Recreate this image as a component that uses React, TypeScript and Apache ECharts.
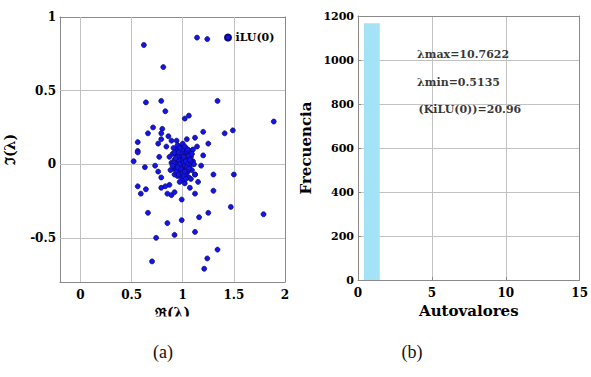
import React, { useEffect, useRef } from "react";
import * as echarts from "echarts";

// Eigenvalues of the iLU(0)-preconditioned matrix: [Re, Im]
const spreadEigs: number[][] = [
  [0.62, 0.81], [0.81, 0.66], [0.64, 0.42], [0.79, 0.43], [0.83, 0.36],
  [0.71, 0.25], [0.8, 0.24], [0.66, 0.21], [0.79, 0.21], [0.89, 0.16],
  [0.56, 0.15], [0.76, 0.14], [0.56, 0.09], [1.14, 0.86], [1.24, 0.85],
  [1.34, 0.43], [1.02, 0.31], [1.06, 0.33], [1.89, 0.29], [1.2, 0.22],
  [1.41, 0.21], [1.49, 0.23], [1.25, 0.14], [1.12, 0.18], [1.04, 0.17],
  [0.94, 0.16], [0.56, 0.08], [0.52, 0.02], [0.63, -0.02], [0.77, 0.05],
  [0.73, -0.01], [0.76, -0.05], [0.79, -0.09], [0.56, -0.15], [0.64, -0.17],
  [0.59, -0.2], [0.79, -0.16], [0.85, -0.2], [0.89, -0.21], [0.66, -0.33],
  [0.85, -0.4], [0.74, -0.5], [0.92, -0.48], [0.7, -0.66], [1.2, 0.06],
  [1.18, -0.01], [1.3, -0.07], [1.5, -0.07], [1.3, -0.18], [1.12, -0.07],
  [1.07, -0.16], [1.12, -0.2], [0.99, -0.24], [0.92, -0.19], [1.47, -0.29],
  [1.79, -0.34], [1.25, -0.33], [1.16, -0.36], [0.99, -0.38], [1.12, -0.46],
  [1.34, -0.58], [1.24, -0.64], [1.21, -0.71], [0.79, 0.17], [0.84, 0.12],
  [0.87, -0.14], [0.83, -0.15], [1.14, 0.12], [1.15, -0.12], [0.86, 0.19],
];

// Dense group of eigenvalues near 1
const clusterEigs: number[][] = [
  [0.98, 0.02], [1.0, 0.0], [1.02, 0.03], [0.96, -0.01], [1.01, -0.03],
  [0.99, 0.05], [1.04, 0.01], [0.97, 0.04], [1.03, -0.02], [0.95, 0.02],
  [1.0, 0.07], [1.06, 0.04], [0.93, 0.0], [1.05, -0.05], [0.98, -0.06],
  [1.02, 0.08], [0.94, 0.06], [1.07, -0.01], [0.96, -0.05], [1.01, 0.1],
  [0.92, 0.03], [1.08, 0.05], [0.99, -0.09], [1.03, 0.11], [0.91, -0.03],
  [1.09, -0.04], [0.97, 0.09], [1.05, 0.07], [0.95, -0.08], [1.04, -0.08],
  [0.9, 0.07], [1.1, 0.02], [0.98, 0.12], [1.0, -0.11], [0.93, 0.1],
  [1.07, 0.09], [0.92, -0.07], [1.06, -0.09], [0.89, 0.01], [1.11, 0.0],
  [0.97, -0.02], [1.0, 0.03], [1.01, 0.01], [0.99, -0.02], [1.02, -0.01],
  [0.98, 0.06], [1.03, 0.05], [0.96, 0.03], [1.04, -0.04], [0.94, -0.03],
  [1.12, -0.07], [0.88, -0.04], [1.0, 0.14], [0.95, 0.13], [1.08, -0.1],
  [0.91, 0.11], [1.02, -0.13], [0.97, -0.12], [1.1, 0.1], [0.87, 0.05],
  [0.95, 0.05], [0.97, 0.0], [0.99, 0.08], [1.01, 0.05], [1.03, 0.02],
  [1.05, 0.0], [1.06, 0.06], [0.94, -0.05], [0.96, -0.07], [0.98, -0.03],
  [1.0, -0.06], [1.02, -0.05], [1.04, -0.02], [1.06, -0.03], [0.93, 0.04],
  [0.95, -0.02], [1.0, 0.1], [1.02, 0.12], [1.04, 0.09], [1.08, 0.02],
  [0.91, 0.01], [0.92, 0.08], [0.97, 0.11], [1.01, -0.08], [1.03, -0.1],
  [0.96, 0.08], [1.07, 0.03], [1.09, 0.07], [0.9, -0.01], [1.05, 0.1],
];

// Histogram of eigenvalue magnitudes: [binStart, binEnd, count]
const histBins: number[][] = [[0.4, 1.47, 1167]];

// Condition statistics printed inside the histogram: [x, y, text]
const statNotes: [number, number, string][] = [
  [4.0, 1023, "λmax=10.7622"],
  [4.0, 897, "λmin=0.5135"],
  [4.1, 773, "(KiLU(0))=20.96"],
];

const reTicks = [0, 0.5, 1, 1.5, 2];
const imTicks = [-0.5, 0, 0.5, 1];
const panelCaptions = ["(a)", "(b)"];

const FONT = "DejaVu Serif";
const GRID_COLOR = "#c2c2c2";
const BOX_COLOR = "#8a8a8a";
const tickLabel = {
  fontFamily: FONT,
  fontWeight: "bold" as const,
  fontSize: 12,
  color: "#000000",
};
const makeSplit = () => ({ show: true, lineStyle: { color: GRID_COLOR, width: 1 } });
const makeAxisLine = () => ({ show: true, onZero: false, lineStyle: { color: BOX_COLOR, width: 1 } });
const edgeAxis = { axisLine: makeAxisLine(), axisTick: { show: false }, axisLabel: { show: false }, splitLine: { show: false } };

export default function App() {
  const ref = useRef<HTMLDivElement>(null);

  useEffect(() => {
    if (!ref.current) return;
    const chart = echarts.init(ref.current, null, { renderer: "svg" });

    // Grid lines for the scatter panel, placed at its tick values
    const scatterGridLines = [
      ...reTicks.filter((v) => v > -0.2 && v < 2).map((v) => ({ xAxis: v })),
      ...imTicks.filter((v) => v > -0.8 && v < 1).map((v) => ({ yAxis: v })),
    ];

    chart.setOption({
      animation: false,
      backgroundColor: "#ffffff",
      grid: [
        { left: 60, top: 17, width: 225, height: 265 },
        { left: 358, top: 16, width: 224, height: 264 },
      ],
      legend: {
        data: ["iLU(0)"],
        left: 219,
        top: 27,
        icon: "circle",
        itemWidth: 9,
        itemHeight: 6,
        textStyle: { fontFamily: FONT, fontWeight: "bold", fontSize: 11, color: "#000000", padding: [0, 0, 0, -2] },
      },
      xAxis: [
        {
          gridIndex: 0,
          type: "value",
          min: -0.2,
          max: 2,
          axisLine: makeAxisLine(),
          axisTick: { show: true, inside: true, length: 3, customValues: reTicks, lineStyle: { color: BOX_COLOR } },
          axisLabel: { ...tickLabel, margin: 7, customValues: reTicks },
          splitLine: { show: false },
          name: "ℜ(λ)",
          nameLocation: "middle",
          nameGap: 20,
          nameTextStyle: { fontFamily: FONT, fontWeight: "bold", fontSize: 14, color: "#000000" },
        },
        {
          gridIndex: 1,
          type: "value",
          min: 0,
          max: 15,
          interval: 5,
          axisLine: makeAxisLine(),
          axisTick: { show: true, inside: true, length: 3, lineStyle: { color: BOX_COLOR } },
          axisLabel: { ...tickLabel, margin: 7 },
          splitLine: makeSplit(),
          name: "Autovalores",
          nameLocation: "middle",
          nameGap: 21,
          nameTextStyle: { fontFamily: FONT, fontWeight: "bold", fontSize: 15, color: "#000000" },
        },
        // top edges of the two boxes
        { gridIndex: 0, type: "value", position: "top", min: -0.2, max: 2, ...edgeAxis },
        { gridIndex: 1, type: "value", position: "top", min: 0, max: 15, ...edgeAxis },
      ],
      yAxis: [
        {
          gridIndex: 0,
          type: "value",
          min: -0.8,
          max: 1,
          axisLine: makeAxisLine(),
          axisTick: { show: true, inside: true, length: 3, customValues: imTicks, lineStyle: { color: BOX_COLOR } },
          axisLabel: { ...tickLabel, margin: 4, customValues: imTicks },
          splitLine: { show: false },
          name: "ℑ(λ)",
          nameLocation: "middle",
          nameGap: 43,
          nameTextStyle: { fontFamily: FONT, fontWeight: "bold", fontSize: 14, color: "#000000" },
        },
        {
          gridIndex: 1,
          type: "value",
          min: 0,
          max: 1200,
          interval: 200,
          axisLine: makeAxisLine(),
          axisTick: { show: true, inside: true, length: 3, lineStyle: { color: BOX_COLOR } },
          axisLabel: { ...tickLabel, fontSize: 11, margin: 4, formatter: (v: number) => String(v) },
          splitLine: makeSplit(),
          name: "Frecuencia",
          nameLocation: "middle",
          nameGap: 45,
          nameTextStyle: { fontFamily: FONT, fontWeight: "bold", fontSize: 15, color: "#000000" },
        },
        // right edges of the two boxes
        { gridIndex: 0, type: "value", position: "right", min: -0.8, max: 1, ...edgeAxis },
        { gridIndex: 1, type: "value", position: "right", min: 0, max: 1200, ...edgeAxis },
      ],
      series: [
        {
          name: "grid-a",
          type: "scatter",
          xAxisIndex: 0,
          yAxisIndex: 0,
          data: [],
          z: 1,
          markLine: {
            silent: true,
            symbol: "none",
            label: { show: false },
            lineStyle: { color: GRID_COLOR, width: 1, type: "solid" },
            data: scatterGridLines,
          },
        },
        {
          name: "iLU(0)",
          type: "scatter",
          xAxisIndex: 0,
          yAxisIndex: 0,
          data: [...spreadEigs, ...clusterEigs],
          symbol: "circle",
          symbolSize: 5,
          itemStyle: { color: "#1414e6", borderColor: "#08086e", borderWidth: 0.7, opacity: 1 },
          z: 5,
        },
        {
          name: "hist",
          type: "custom",
          xAxisIndex: 1,
          yAxisIndex: 1,
          data: histBins,
          z: 3,
          renderItem: (_params: any, api: any) => {
            const topLeft = api.coord([api.value(0), api.value(2)]);
            const bottomRight = api.coord([api.value(1), 0]);
            return {
              type: "rect",
              shape: {
                x: topLeft[0],
                y: topLeft[1],
                width: bottomRight[0] - topLeft[0],
                height: bottomRight[1] - topLeft[1],
              },
              style: { fill: "#a3e2f7" },
            };
          },
        },
        {
          name: "stats",
          type: "scatter",
          xAxisIndex: 1,
          yAxisIndex: 1,
          symbolSize: 0,
          data: statNotes.map(([x, y, t]) => ({ value: [x, y], name: t })),
          label: {
            show: true,
            position: "right",
            distance: 0,
            formatter: (p: any) => p.name,
            fontFamily: FONT,
            fontWeight: "bold",
            fontSize: 11,
            color: "#000000",
          },
        },
      ],
      graphic: [
        {
          type: "rect",
          z: 100,
          shape: { x: 0, y: 316.5, width: 591, height: 20 },
          style: { fill: "#ffffff" },
        },
        {
          type: "text",
          z: 101,
          x: 163,
          y: 352,
          style: {
            text: panelCaptions[0],
            font: '18px "Liberation Serif"',
            fill: "#111111",
            textAlign: "center",
            textVerticalAlign: "middle",
          },
        },
        {
          type: "text",
          z: 101,
          x: 412,
          y: 352,
          style: {
            text: panelCaptions[1],
            font: '18px "Liberation Serif"',
            fill: "#111111",
            textAlign: "center",
            textVerticalAlign: "middle",
          },
        },
      ],
    });

    return () => chart.dispose();
  }, []);

  return (
    <div
      ref={ref}
      style={{ position: "fixed", left: 0, top: 0, width: 591, height: 377, background: "#ffffff" }}
    />
  );
}
